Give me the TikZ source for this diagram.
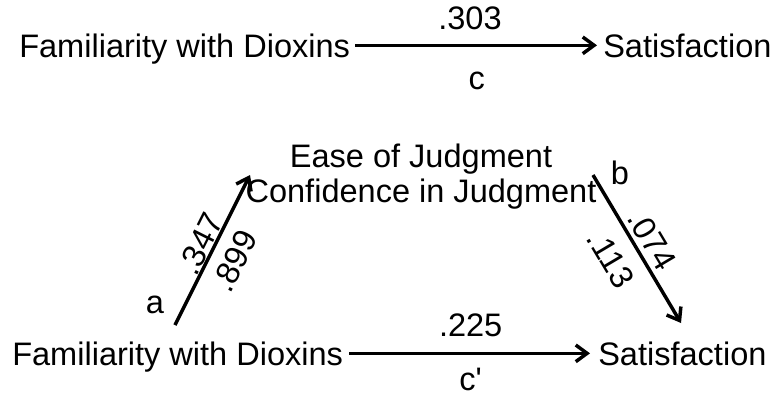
\documentclass[tikz,border=0pt]{standalone}
\usepackage{fontspec}
\setmainfont{Liberation Sans}
\usetikzlibrary{arrows.meta}

\begin{document}
\begin{tikzpicture}[x=0.75pt, y=-0.75pt,
term/.style={inner sep=0pt, text height=17.5pt, text depth=0pt,
font=\fontsize{24.4}{26.25}\selectfont},
coef/.style={inner sep=0pt, font=\fontsize{24.4}{26.25}\selectfont},
arrow/.style={-{Straight Barb[length=8.5pt, width=12.5pt]}, line width=2.6pt}]
\useasboundingbox (0,0) rectangle (773,396);
\node[term, anchor=base west] (famTop) at (19,57) {Familiarity with Dioxins};
\node[term, anchor=base west] (satTop) at (603,57) {Satisfaction};
\node[term, anchor=base west] (famBot) at (12,365) {Familiarity with Dioxins};
\node[term, anchor=base west] (satBot) at (598,365) {Satisfaction};
\node[coef, align=center, anchor=north] (med) at (421,144)
    {Ease of Judgment\\Confidence in Judgment};
\node[coef] (pathA) at (155,305) {a};
\node[coef] (pathB) at (620,173) {b};
\coordinate (aStart) at (175,325);
\coordinate (aEnd)   at (250,175);
\coordinate (bStart) at (593,175);
\coordinate (bEnd)   at (681,323);
\draw[arrow, shorten <=3.75pt, shorten >=4.5pt] (famTop) --
    node[coef, above=10.3pt, xshift=-5pt] {.303}
    node[coef, below=18.6pt] {c} (satTop);
\draw[arrow, shorten <=4.5pt, shorten >=6pt] (famBot) --
    node[coef, above=11pt] {.225}
    node[coef, below=10pt] {c\textquotesingle} (satBot);
\draw[arrow] (aStart) --
    node[coef, sloped, above=0.3pt] {.347}
    node[coef, sloped, below=8.5pt] {.899} (aEnd);
\draw[arrow] (bStart) --
    node[coef, sloped, above=3.3pt] {.074}
    node[coef, sloped, pos=0.47, below=10.8pt] {.113} (bEnd);
\end{tikzpicture}
\end{document}
